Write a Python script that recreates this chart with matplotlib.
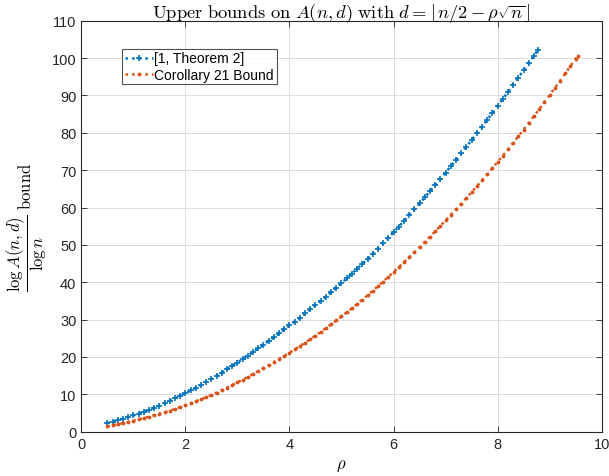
import matplotlib
matplotlib.use("Agg")
import matplotlib.pyplot as plt

# ---------------------------------------------------------------------------
# Data
# ---------------------------------------------------------------------------
rho_thm2 = [0.5, 0.6, 0.7, 0.8, 0.9, 1.0, 1.1, 1.2, 1.3, 1.4, 1.5, 1.6, 1.7,
            1.8, 1.9, 2.0, 2.1, 2.2, 2.3, 2.4, 2.5, 2.6, 2.7, 2.8, 2.9, 3.0,
            3.1, 3.2, 3.3, 3.4, 3.5, 3.6, 3.7, 3.8, 3.9, 4.0, 4.1, 4.2, 4.3,
            4.4, 4.5, 4.6, 4.7, 4.8, 4.9, 5.0, 5.1, 5.2, 5.3, 5.4, 5.5, 5.6,
            5.7, 5.8, 5.9, 6.0, 6.1, 6.2, 6.3, 6.4, 6.5, 6.6, 6.7, 6.8, 6.9,
            7.0, 7.1, 7.2, 7.3, 7.4, 7.5, 7.6, 7.7, 7.8, 7.9, 8.0, 8.1, 8.2,
            8.3, 8.4, 8.5, 8.6, 8.7, 8.77]
bound_thm2 = [2.30, 2.67, 3.06, 3.47, 3.90, 4.35, 4.82, 5.33, 5.86, 6.41,
              7.00, 7.61, 8.25, 8.91, 9.59, 10.30, 11.03, 11.78, 12.55, 13.34,
              14.15, 14.98, 15.83, 16.70, 17.59, 18.50, 19.43, 20.37, 21.33,
              22.31, 23.30, 24.31, 25.32, 26.35, 27.38, 28.43, 29.49, 30.56,
              31.65, 32.76, 33.88, 35.02, 36.18, 37.36, 38.56, 39.78, 41.02,
              42.29, 43.59, 44.91, 46.25, 47.62, 49.02, 50.45, 51.90, 53.38,
              54.88, 56.40, 57.95, 59.52, 61.10, 62.71, 64.34, 65.99, 67.66,
              69.35, 71.06, 72.78, 74.52, 76.28, 78.05, 79.84, 81.65, 83.47,
              85.31, 87.18, 89.06, 90.95, 92.86, 94.79, 96.73, 98.69, 100.66,
              102.06]

rho_cor21 = [0.5, 0.6, 0.7, 0.8, 0.9, 1.0, 1.1, 1.2, 1.3, 1.4, 1.5, 1.6, 1.7,
             1.8, 1.9, 2.0, 2.1, 2.2, 2.3, 2.4, 2.5, 2.6, 2.7, 2.8, 2.9, 3.0,
             3.1, 3.2, 3.3, 3.4, 3.5, 3.6, 3.7, 3.8, 3.9, 4.0, 4.1, 4.2, 4.3,
             4.4, 4.5, 4.6, 4.7, 4.8, 4.9, 5.0, 5.1, 5.2, 5.3, 5.4, 5.5, 5.6,
             5.7, 5.8, 5.9, 6.0, 6.1, 6.2, 6.3, 6.4, 6.5, 6.6, 6.7, 6.8, 6.9,
             7.0, 7.1, 7.2, 7.3, 7.4, 7.5, 7.6, 7.7, 7.8, 7.9, 8.0, 8.1, 8.2,
             8.3, 8.4, 8.5, 8.6, 8.7, 8.8, 8.9, 9.0, 9.1, 9.2, 9.3, 9.4, 9.5,
             9.54]
bound_cor21 = [1.40, 1.69, 1.98, 2.29, 2.62, 2.95, 3.30, 3.65, 4.02, 4.41,
               4.80, 5.21, 5.64, 6.09, 6.56, 7.05, 7.56, 8.10, 8.66, 9.24,
               9.85, 10.48, 11.13, 11.80, 12.49, 13.20, 13.93, 14.67, 15.42,
               16.19, 16.98, 17.78, 18.59, 19.42, 20.27, 21.13, 22.01, 22.91,
               23.83, 24.77, 25.73, 26.71, 27.71, 28.74, 29.79, 30.85, 31.94,
               33.05, 34.19, 35.35, 36.53, 37.73, 38.95, 40.19, 41.45, 42.73,
               44.03, 45.35, 46.68, 48.03, 49.40, 50.79, 52.20, 53.62, 55.06,
               56.53, 58.01, 59.51, 61.02, 62.55, 64.10, 65.67, 67.27, 68.89,
               70.53, 72.20, 73.89, 75.60, 77.34, 79.10, 80.88, 82.68, 84.50,
               86.35, 88.22, 90.10, 92.01, 93.94, 95.89, 97.86, 99.85, 100.65]

labels = ['[1, Theorem 2]', 'Corollary 21 Bound']
xticks = [0, 2, 4, 6, 8, 10]
yticks = [0, 10, 20, 30, 40, 50, 60, 70, 80, 90, 100, 110]

# ---------------------------------------------------------------------------
# Figure
# ---------------------------------------------------------------------------
plt.rcParams['mathtext.fontset'] = 'cm'
plt.rcParams['font.family'] = ['Liberation Sans', 'DejaVu Sans']

fig = plt.figure(figsize=(6.09, 4.77), dpi=100)
ax = fig.add_axes([0.1335, 0.0929, 0.8545, 0.8616])

ax.plot(rho_thm2, bound_thm2, ':', color='#0072BD', lw=1.8, marker='+',
        markersize=4.2, markeredgewidth=1.2, label=labels[0])
ax.plot(rho_cor21, bound_cor21, ':', color='#D95319', lw=1.8, marker='.',
        markersize=3.5, label=labels[1])

ax.set_xlim(0, 10)
ax.set_ylim(0, 110)
ax.set_xticks(xticks)
ax.set_yticks(yticks)
ax.tick_params(direction='in', top=True, right=True, labelsize=10.5,
               colors='#262626', length=4, width=0.6)
for s in ax.spines.values():
    s.set_color('#262626')
    s.set_linewidth(0.8)
ax.grid(True, color='#dcdcdc', lw=0.7)
ax.set_axisbelow(True)

ax.set_title(r'$\mathrm{Upper\ bounds\ on\ }A(n,d)\mathrm{\ with\ }'
             r'd=\lfloor n/2-\rho\sqrt{n}\rfloor$', fontsize=13.3, pad=3)
ax.set_xlabel(r'$\rho$', fontsize=12, labelpad=5)
ax.set_ylabel(r'$\dfrac{\log A(n,d)}{\log n}\ \mathrm{bound}$', fontsize=12,
              labelpad=2)

leg = ax.legend(loc='upper left', bbox_to_anchor=(0.079, 0.932), fontsize=10,
                frameon=True, fancybox=False, handlelength=2.0,
                handletextpad=0.1, borderpad=0.2, labelspacing=0.15,
                borderaxespad=0)
leg.get_frame().set_edgecolor('#262626')
leg.get_frame().set_linewidth(0.8)

fig.savefig('out.png', dpi=100)
